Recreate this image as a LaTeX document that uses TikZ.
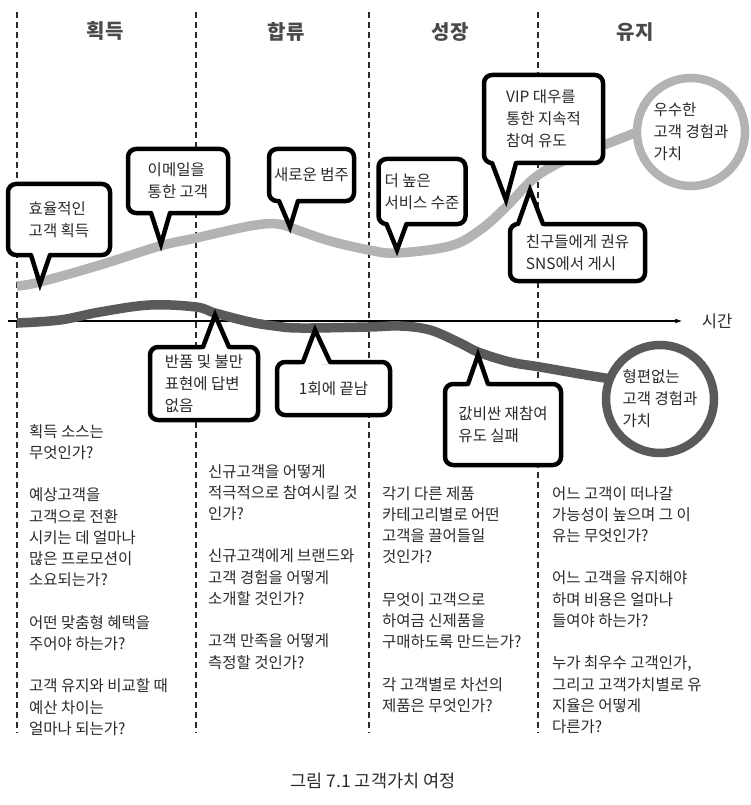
\documentclass[tikz,border=0pt]{standalone}
\usepackage{fontspec}
\setmainfont{Noto Sans CJK KR}
\usetikzlibrary{calc,arrows.meta}
\definecolor{valuehigh}{HTML}{B3B3B3}
\definecolor{valuelow}{HTML}{5A5A5A}
\definecolor{ink}{HTML}{2A2A2A}

\newcommand{\tail}[5]{%
  \coordinate (#1-l) at ($(#1.#2)+(#3,0)$);
  \coordinate (#1-r) at ($(#1.#2)+(#4,0)$);
  \fill[white] ($(#1-l)!-3pt!(#5)$) -- (#5) -- ($(#1-r)!-3pt!(#5)$) -- cycle;
  \draw[tailline] (#1-l) -- (#5) -- (#1-r);}

\begin{document}
\begin{tikzpicture}[x=1pt, y=-1pt,
    divider/.style={dash pattern=on 6pt off 4pt, line width=1.5pt, draw=ink},
    head/.style={font=\fontsize{20}{22}\selectfont\bfseries, text=ink!85},
    bubble/.style={draw=black, line width=4.5pt, rounded corners=8pt, fill=white, outer sep=0pt, inner sep=0pt, align=left, font=\fontsize{15.5}{22}\selectfont, text=ink},
    tailline/.style={draw=black, line width=4.5pt, line join=miter, line cap=round},
    ring/.style={circle, line width=8.5pt, fill=white, minimum size=108pt, inner sep=0pt, outer sep=0pt, align=left, font=\fontsize{15.5}{22}\selectfont, text=ink},
    question/.style={anchor=north west, inner sep=0pt, align=left, font=\fontsize{15.5}{21.3}\selectfont, text=ink}]
        \useasboundingbox (0,0) rectangle (750,805);
        \foreach \x in {17,196,369,538} \draw[divider] (\x,12) -- (\x,733);

        \node[head] (acq) at (105,31) {획득};
        \node[head] (onb) at (286,32) {합류};
        \node[head] (grw) at (450,32) {성장};
        \node[head] (ret) at (635,32) {유지};

        \coordinate (t0) at (8,321);
        \node[font=\fontsize{16.5}{18}\selectfont, text=ink] (time) at (717,321) {시간};
        \draw[line width=1.3pt, -{Latex[length=7pt,width=5pt]}] (t0) -- ([xshift=-16]time.west);

        \node[ring, draw=valuehigh] (good) at (691,132) {우수한\\고객 경험과\\가치};
        \node[ring, draw=valuelow] (poor) at (660,399) {형편없는\\고객 경험과\\가치};

        \draw[valuehigh, line width=9.5pt] plot[smooth, tension=0.6] coordinates {(17,286) (40,282) (100,265) (160,246) (196,238) (250,226) (278,224) (300,231) (330,241) (369,250) (397,253) (450,246) (480,230) (505,208) (532,180) (555,165) (583,153) (617,140) (good.west)};
        \draw[valuelow, line width=9.5pt] plot[smooth, tension=0.6] coordinates {(17,323) (60,320) (100,312) (150,305) (196,307) (215,313) (250,322) (275,326) (300,328) (369,327) (400,326) (430,330) (460,343) (478,352) (510,362) (540,367) (580,374) (poor.158)};

        \node[bubble, minimum width=102pt, minimum height=71pt] (c1) at (59,219.5) {효율적인\\고객 획득};
        \coordinate (t1) at (40,284);
        \tail{c1}{south west}{23}{42}{t1}
        \node[bubble, minimum width=100pt, minimum height=64pt] (c2) at (178,181) {이메일을\\통한 고객};
        \coordinate (t2) at (161,244);
        \tail{c2}{south west}{23}{42}{t2}
        \node[bubble, minimum width=85pt, minimum height=52pt] (c3) at (311.5,175) {새로운 범주};
        \coordinate (t3) at (290,227);
        \tail{c3}{south west}{10}{29}{t3}
        \node[bubble, minimum width=87pt, minimum height=65pt] (c4) at (422,191.5) {더 높은\\서비스 수준};
        \coordinate (t4) at (397,250);
        \tail{c4}{south west}{8}{28}{t4}
        \node[bubble, minimum width=119pt, minimum height=88pt] (c5) at (543.5,119) {VIP 대우를\\통한 지속적\\참여 유도};
        \coordinate (t5) at (506,200);
        \tail{c5}{south west}{8}{32}{t5}
        \node[bubble, minimum width=135pt, minimum height=57pt] (c6) at (577.5,252.5) {친구들에게 권유\\SNS에서 게시};
        \coordinate (t6) at (530,190);
        \tail{c6}{north west}{8}{33}{t6}
        \node[bubble, minimum width=108pt, minimum height=73pt] (c7) at (204,383.5) {반품 및 불만\\표현에 답변\\없음};
        \coordinate (t7) at (215,315);
        \tail{c7}{north west}{53}{79}{t7}
        \node[bubble, minimum width=113pt, minimum height=53pt] (c8) at (333.5,388.5) {1회에 끝남};
        \coordinate (t8) at (315,330);
        \tail{c8}{north west}{26}{53}{t8}
        \node[bubble, minimum width=116pt, minimum height=81pt] (c9) at (503,424.5) {값비싼 재참여\\유도 실패};
        \coordinate (t9) at (478,355);
        \tail{c9}{north west}{23}{43}{t9}

        \node[question] (q1) at (29,424) {획득 소스는\\무엇인가?\\[21pt]예상고객을\\고객으로 전환\\시키는 데 얼마나\\많은 프로모션이\\소요되는가?\\[21pt]어떤 맞춤형 혜택을\\주어야 하는가?\\[21pt]고객 유지와 비교할 때\\예산 차이는\\얼마나 되는가?};
        \node[question] (q2) at (208,464) {신규고객을 어떻게\\적극적으로 참여시킬 것\\인가?\\[21pt]신규고객에게 브랜드와\\고객 경험을 어떻게\\소개할 것인가?\\[21pt]고객 만족을 어떻게\\측정할 것인가?};
        \node[question] (q3) at (382,486) {각기 다른 제품\\카테고리별로 어떤\\고객을 끌어들일\\것인가?\\[21pt]무엇이 고객으로\\하여금 신제품을\\구매하도록 만드는가?\\[21pt]각 고객별로 차선의\\제품은 무엇인가?};
        \node[question] (q4) at (552,486) {어느 고객이 떠나갈\\가능성이 높으며 그 이\\유는 무엇인가?\\[21pt]어느 고객을 유지해야\\하며 비용은 얼마나\\들여야 하는가?\\[21pt]누가 최우수 고객인가,\\그리고 고객가치별로 유\\지율은 어떻게\\다른가?};

        \node[font=\fontsize{17.5}{20}\selectfont, text=ink] (cap) at (373,781) {그림 7.1 고객가치 여정};
      \end{tikzpicture}
\end{document}
